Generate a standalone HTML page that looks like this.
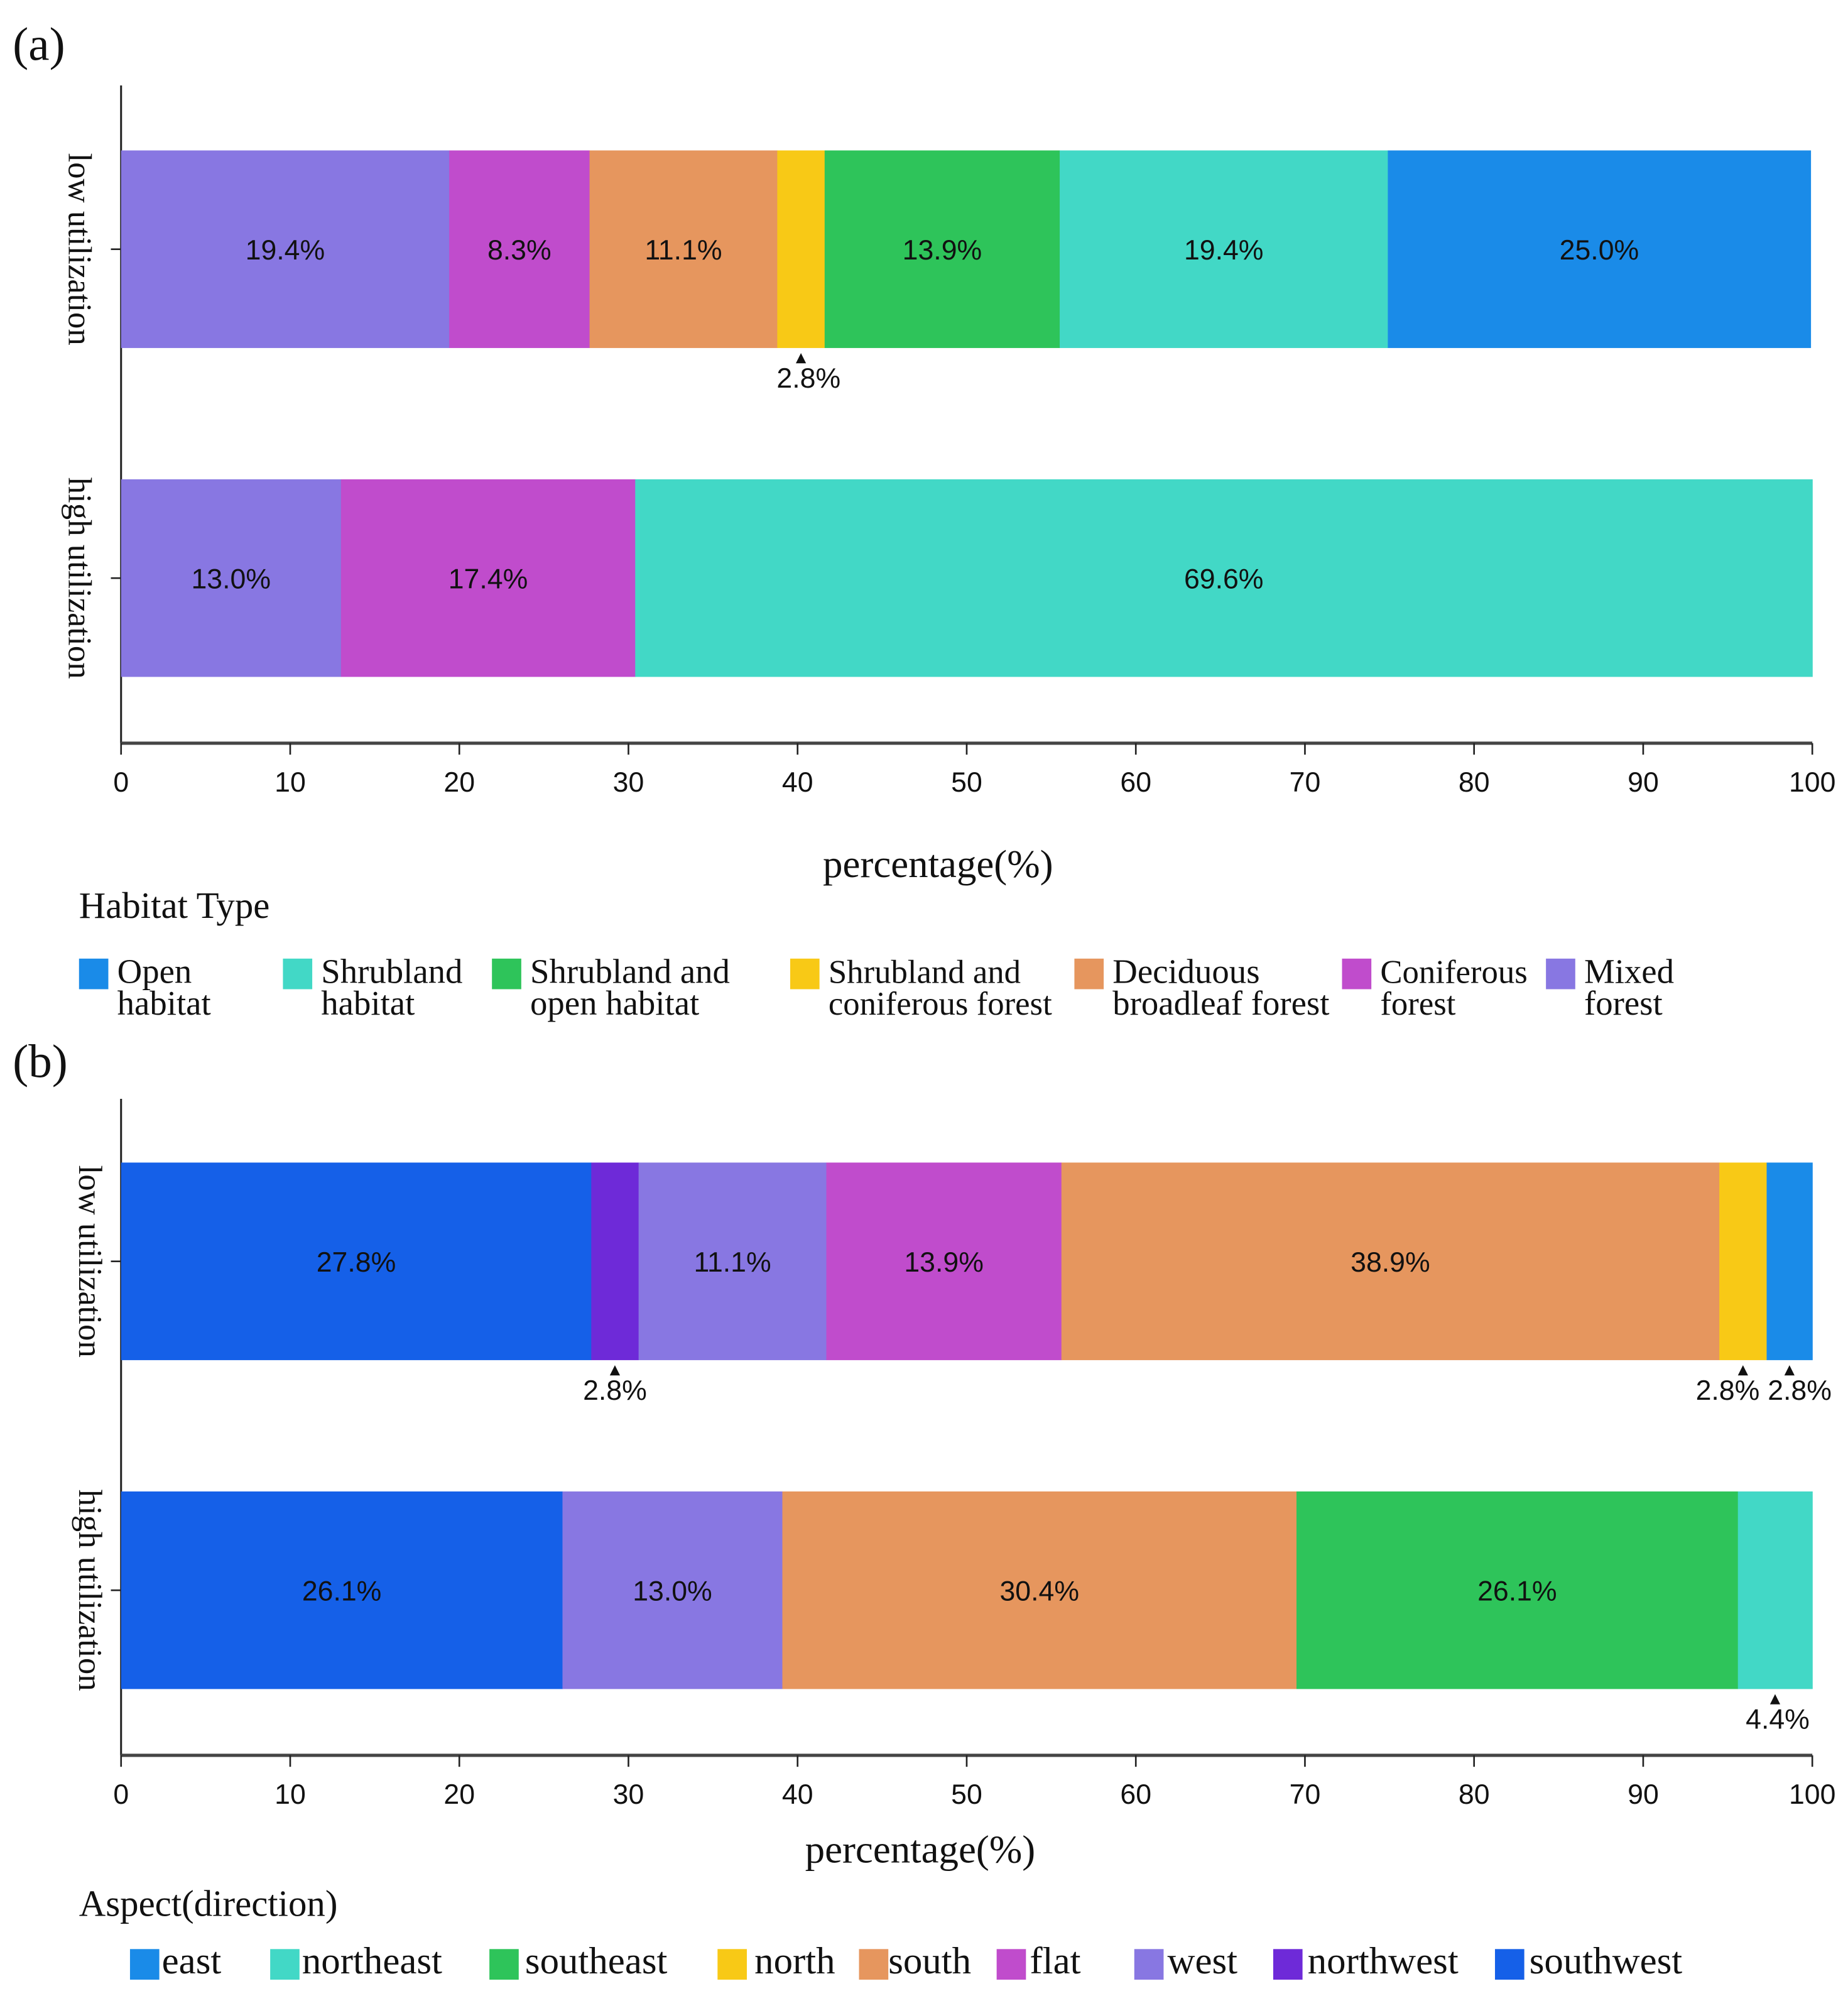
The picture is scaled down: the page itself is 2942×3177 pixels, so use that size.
<!DOCTYPE html>
<html><head><meta charset="utf-8"><style>
html,body{margin:0;padding:0;background:#fff;}
svg{display:block;}
.serif{font-family:"Liberation Serif",serif;fill:#111;}
.sans{font-family:"Liberation Sans",sans-serif;fill:#111;}
</style></head><body>
<svg id="fig" width="2942" height="3177" viewBox="0 0 1450 1565.8" xmlns="http://www.w3.org/2000/svg">
<text class="serif" x="10" y="47" font-size="37">(a)</text>
<text class="serif" x="10" y="845" font-size="37">(b)</text>
<g id="pa"></g>
<g id="pb"></g>
</svg>
<script>
// Panel A data (Habitat type)
const catsA = ["low utilization","high utilization"];
const seriesA = ["Mixed forest","Coniferous forest","Deciduous broadleaf forest","Shrubland and coniferous forest","Shrubland and open habitat","Shrubland habitat","Open habitat"];
const colorsA = ["#8877e2","#c04ccc","#e6965e","#f8c916","#2ec45a","#42d8c6","#1a8be8"];
const lowA = [19.4,8.3,11.1,2.8,13.9,19.4,25.0];
const highA = [13.0,17.4,0,0,0,69.6,0];
// Panel B data (Aspect)
const seriesB = ["southwest","northwest","west","flat","south","north","east","southeast","northeast"];
const colorsB = ["#1560e8","#6e2ad8","#8877e2","#c04ccc","#e6965e","#f8c916","#1a8be8","#2ec45a","#42d8c6"];
const lowB = [27.8,2.8,11.1,13.9,38.9,2.8,2.8,0,0];
const highB = [26.1,0,13.0,0,30.4,0,0,26.1,4.4];
const ticks = [0,10,20,30,40,50,60,70,80,90,100];

const NS="http://www.w3.org/2000/svg";
function mk(parent,tag,attrs,txt){const e=document.createElementNS(NS,tag);for(const k in attrs)e.setAttribute(k,attrs[k]);if(txt!==undefined)e.textContent=txt;parent.appendChild(e);return e;}
const X0=95,X1=1422;
const xs=v=>X0+(X1-X0)*Math.min(v,100)/100;

function panel(g,cfg){
  let a=mk(g,'line',{x1:X0,y1:cfg.top,x2:X0,y2:cfg.axisY,stroke:'#222','stroke-width':1.5});
  
  
  let b=mk(g,'line',{x1:X0,y1:cfg.axisY,x2:X1,y2:cfg.axisY,stroke:'#444','stroke-width':2.5});
  
  
  ticks.forEach(t=>{
    let l=mk(g,'line',{x1:xs(t),y1:cfg.axisY,x2:xs(t),y2:cfg.axisY+9,stroke:'#222','stroke-width':1.3});
    
    
    let tx=mk(g,'text',{x:xs(t),y:cfg.axisY+38,'text-anchor':'middle','font-size':22,class:'sans'},String(t));
    
    
  });
  let ti=mk(g,'text',{x:cfg.titleX,y:cfg.titleY,'text-anchor':'middle','font-size':31,class:'serif'},'percentage(%)');
  
  
  cfg.rows.forEach((row,ri)=>{
    const y0=cfg.barTops[ri],h=155,cy=y0+h/2;
    let tk=mk(g,'line',{x1:X0-8,y1:cy,x2:X0,y2:cy,stroke:'#222','stroke-width':1.3});
    
    
    let yl=mk(g,'text',{x:0,y:0,'text-anchor':'middle','font-size':26,class:'serif',transform:`translate(${cfg.ylabX},${cy}) rotate(90)`},cfg.cats[ri]);
    
    
    let acc=0;
    row.forEach((v,si)=>{
      if(v<=0)return;
      const x=xs(acc),w=xs(acc+v)-xs(acc);
      let r=mk(g,'rect',{x:x,y:y0,width:Math.max(w,0)+0.3,height:h,fill:cfg.colors[si]});
      
      
      const lab=v.toFixed(1)+'%';
      const mid=(xs(acc)+xs(acc+v))/2;
      if(v>=5){
        let t=mk(g,'text',{x:mid,y:cy+8,'text-anchor':'middle','font-size':22,class:'sans'},lab);
        
        
      } else {
        let p=mk(g,'polygon',{points:`${mid-4},${y0+h+12} ${mid+4},${y0+h+12} ${mid},${y0+h+4}`,fill:'#111'});
        
        
        let t=mk(g,'text',{x:mid+(cfg.offs&&cfg.offs[ri+'-'+si]||0),y:y0+h+31,'text-anchor':'middle','font-size':22,class:'sans'},lab);
        
        
      }
      acc+=v;
    });
  });
  let lt=mk(g,'text',{x:62,y:cfg.legTitleY,'font-size':29,class:'serif'},cfg.legTitle);
  
  
  cfg.legend.forEach(it=>{
    const li=mk(g,'g',{});
    
    
    mk(li,'rect',{x:it.x,y:cfg.legY,width:23,height:24,fill:cfg.colors[cfg.series.indexOf(it.s)]});
    it.lines.forEach((ln,k)=>mk(li,'text',{x:it.x+(it.dx||30),y:cfg.legY+19+k*25,'font-size':it.fs||27,class:'serif'},ln));
  });
}

panel(document.getElementById('pa'),{
  top:67,axisY:583,titleX:736,titleY:688,barTops:[118,376],ylabX:54,
  cats:catsA,series:seriesA,colors:colorsA,rows:[lowA,highA],
  offs:{'0-3':6},
  legTitle:'Habitat Type',legTitleY:720,legY:752,
  legend:[
    {x:62,s:'Open habitat',lines:['Open','habitat']},
    {x:222,s:'Shrubland habitat',lines:['Shrubland','habitat']},
    {x:386,s:'Shrubland and open habitat',lines:['Shrubland  and','open habitat']},
    {x:620,s:'Shrubland and coniferous forest',lines:['Shrubland and','coniferous forest'],fs:26},
    {x:843,s:'Deciduous broadleaf forest',lines:['Deciduous','broadleaf forest']},
    {x:1053,s:'Coniferous forest',lines:['Coniferous','forest'],fs:26},
    {x:1213,s:'Mixed forest',lines:['Mixed','forest']}
  ]
});
panel(document.getElementById('pb'),{
  top:862,axisY:1377,titleX:722,titleY:1461,barTops:[912,1170],ylabX:62,
  cats:catsA,series:seriesB,colors:colorsB,rows:[lowB,highB],
  offs:{'0-5':-12,'0-6':8,'1-8':2},
  legTitle:'Aspect(direction)',legTitleY:1503,legY:1529,
  legend:[
    {x:102,s:'east',lines:['east'],dx:25,fs:30},
    {x:212,s:'northeast',lines:['northeast'],dx:25,fs:30},
    {x:384,s:'southeast',lines:['southeast'],dx:28,fs:30},
    {x:563,s:'north',lines:['north'],dx:29,fs:30},
    {x:674,s:'south',lines:['south'],dx:23,fs:30},
    {x:782,s:'flat',lines:['flat'],dx:26,fs:30},
    {x:890,s:'west',lines:['west'],dx:26,fs:30},
    {x:999,s:'northwest',lines:['northwest'],dx:27,fs:30},
    {x:1173,s:'southwest',lines:['southwest'],dx:27,fs:30}
  ]
});
</script>
</body></html>
